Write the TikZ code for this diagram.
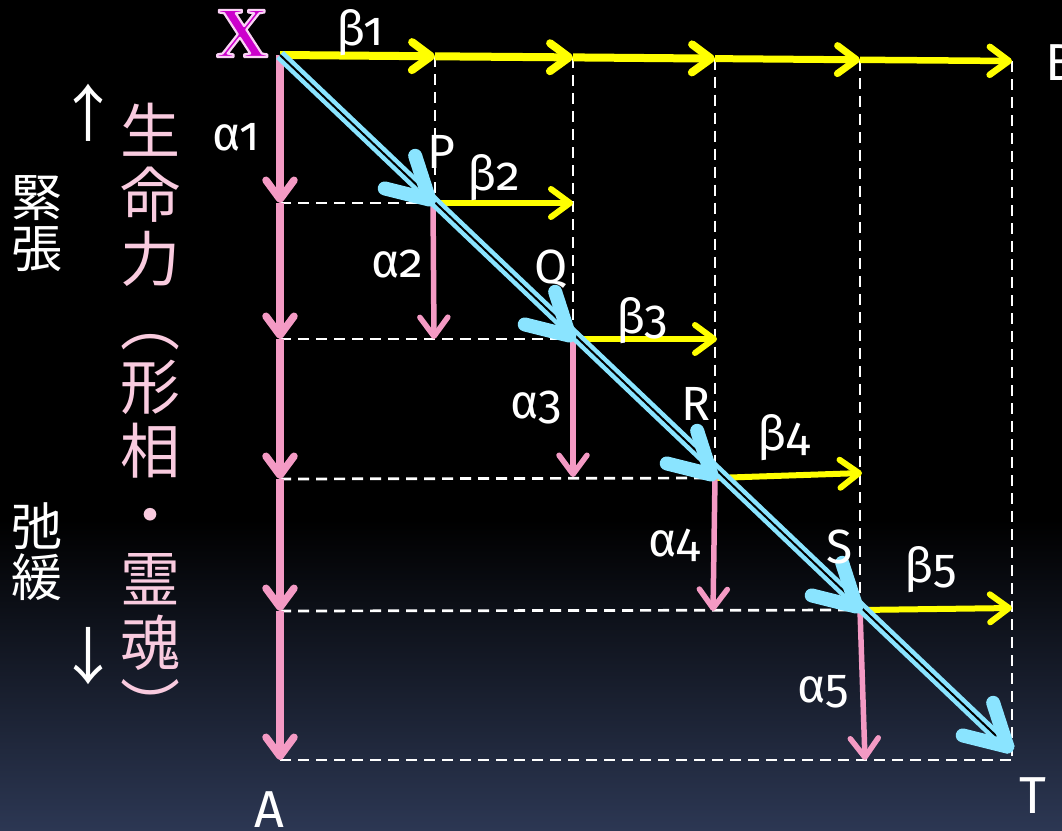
\documentclass[tikz,border=0pt]{standalone}
\usepackage{fontspec}
\setmainfont{Fira Sans}[Numbers=OldStyle]
\newfontfamily\jpfont{Noto Sans CJK JP}
\newfontfamily\xfont{Liberation Serif}
\usetikzlibrary{arrows.meta,calc}
\definecolor{ylw}{HTML}{FFFF00}
\definecolor{pnk}{HTML}{F49AC4}
\definecolor{sky}{HTML}{8AE4FF}
\definecolor{pnktxt}{HTML}{F9CBDF}
\definecolor{xmag}{HTML}{CC00CC}
\definecolor{bgbot}{HTML}{2C3753}
\newcommand\skychev[1]{\draw[chev] ($(#1)+(136.5:5pt)+(166:46pt)$) -- ($(#1)+(136.5:5pt)$) -- ($(#1)+(136.5:5pt)+(108:46pt)$);}
\newcommand\outlinedX{\color{xmag}\special{pdf:literal direct 2 Tr 2.2 w 1 j 0.98 0.82 0.96 RG}X\special{pdf:literal direct 0 Tr}}
\begin{document}
\begin{tikzpicture}[x=1pt,y=-1pt,
  tipb/.style={-{Straight Barb[length=19pt,width=28pt,round]}},
  ytop/.style={draw=ylw, line width=8pt, tipb},
  yin/.style={draw=ylw, line width=6pt, tipb},
  ptop/.style={draw=pnk, line width=7.5pt, tipb},
  pin/.style={draw=pnk, line width=5.5pt, tipb},
  gridline/.style={draw=white, line width=2.7pt, dash pattern=on 11pt off 7pt},
  diag/.style={draw=sky, line width=4.5pt, double=black, double distance=2pt},
  chev/.style={draw=sky, line width=14pt, line cap=round, line join=round},
  lbl/.style={text=white, font=\fontsize{48}{48}\selectfont, inner sep=0pt, anchor=base west},
  caplbl/.style={text=white, font=\fontsize{52}{52}\selectfont, inner sep=0pt, anchor=base west},
  jpv/.style={text=pnktxt, font=\jpfont\fontsize{60}{60}\selectfont, inner sep=0pt, text height=0.88em, text depth=0.12em, anchor=center},
  jpw/.style={text=white, font=\jpfont\fontsize{51}{51}\selectfont, inner sep=0pt, text height=0.88em, text depth=0.12em, anchor=center},
  xl/.style={font=\xfont\bfseries\fontsize{72}{72}\selectfont, inner sep=0pt, anchor=base}
]
\useasboundingbox (0,0) rectangle (1062,830);
\fill[black] (0,0) rectangle (1062,830);
\shade[top color=black, bottom color=bgbot] (0,520) rectangle (1062,830);

% grid points
\coordinate (X) at (280,55);
\coordinate (B1) at (435,56.3);
\coordinate (B2) at (573,57.4);
\coordinate (B3) at (715,58.6);
\coordinate (B4) at (860,59.8);
\coordinate (B5) at (1012,61);
\coordinate (A1) at (280,203);
\coordinate (A2) at (280,339);
\coordinate (A3) at (280,479);
\coordinate (A4) at (280,611);
\coordinate (A5) at (280,760);
\coordinate (P) at (433,203);
\coordinate (Q) at (573,339);
\coordinate (R) at (715,478);
\coordinate (S) at (860,610);
\coordinate (T) at (1011,750);
\coordinate (C) at (1012,760);
\coordinate (Pb) at (573,203);
\coordinate (Pa) at (434,339);
\coordinate (Qb) at (717,339);
\coordinate (Qa) at (573,477);
\coordinate (Rb) at (862,473);
\coordinate (Ra) at (713,611);
\coordinate (Sb) at (1012,608);
\coordinate (Sa) at (865,760);

% dashed grid
\draw[gridline] (A1) -- (P);
\draw[gridline] (A2) -- (Q);
\draw[gridline] (A3) -- (R);
\draw[gridline] (A4) -- (S);
\draw[gridline] (A5) -- (C);
\draw[gridline] (B1) -- (B1 |- P);
\draw[gridline] (B2) -- (B2 |- Q);
\draw[gridline] (B3) -- (B3 |- R);
\draw[gridline] (B4) -- (B4 |- S);
\draw[gridline] (B5) -- (C);

% yellow beta arrows
\draw[ytop] (X) -- (B1);
\draw[ytop] (B1) -- (B2);
\draw[ytop] (B2) -- (B3);
\draw[ytop, line width=7pt] (B3) -- (B4);
\draw[ytop, line width=6.5pt] (B4) -- (B5);
\draw[yin] (P) -- (Pb);
\draw[yin] (Q) -- (Qb);
\draw[yin] (R) -- (Rb);
\draw[yin] (S) -- (Sb);

% pink alpha arrows
\draw[ptop] (X) -- (A1);
\draw[ptop] (A1) -- (A2);
\draw[ptop] (A2) -- (A3);
\draw[ptop] (A3) -- (A4);
\draw[ptop] (A4) -- (A5);
\draw[pin] (P) -- (Pa);
\draw[pin] (Q) -- (Qa);
\draw[pin] (R) -- (Ra);
\draw[pin] (S) -- (Sa);

% diagonal
\draw[diag] (X) -- (T);
\skychev{P}
\skychev{Q}
\skychev{R}
\skychev{S}
\skychev{T}

% labels
\node[lbl] (lb1) at (336,45) {β1};
\node[lbl] (la1) at (212,150) {α1};
\node[lbl] (lP) at (427,168) {P};
\node[lbl] (lb2) at (467,190) {β2};
\node[lbl] (la2) at (371,277) {α2};
\node[lbl] (lQ) at (534,283) {Q};
\node[lbl] (lb3) at (616,333) {β3};
\node[lbl] (la3) at (510,418) {α3};
\node[lbl] (lR) at (681,420) {R};
\node[lbl] (lb4) at (757,450) {β4};
\node[lbl] (la4) at (648,556) {α4};
\node[lbl] (lS) at (826,563) {S};
\node[lbl] (lb5) at (904,582) {β5};
\node[lbl] (la5) at (797,702) {α5};
\node[caplbl] (lT) at (1019,813) {T};
\node[caplbl] (lA) at (254,827) {A};
\node[caplbl] (lB) at (1045,80) {B};

% X, magenta with a light outline
\node[xl] (lX) at (242,57) {\outlinedX};

% vertical Japanese text
\node[jpv] (j0) at (150,149.5) {生};
\node[jpv] (j1) at (150,213.5) {命};
\node[jpv] (j2) at (150,277.5) {力};
\node[jpv] (j3) at (150,341.5) {︵};
\node[jpv] (j4) at (150,405.5) {形};
\node[jpv] (j5) at (150,469.5) {相};
\node[jpv] (j6) at (150,533.5) {・};
\node[jpv] (j7) at (150,597.5) {霊};
\node[jpv] (j8) at (150,661.5) {魂};
\node[jpv] (j9) at (150,725.5) {︶};

\node[jpw] (k1) at (37,213) {緊};
\node[jpw] (k2) at (37,264) {張};
\node[jpw] (k3) at (37,542) {弛};
\node[jpw] (k4) at (37,593) {緩};
\node[jpw, font=\jpfont\fontsize{62}{62}\selectfont] (up) at (88,133) {↑};
\node[jpw, font=\jpfont\fontsize{62}{62}\selectfont] (dn) at (88,676) {↓};
\end{tikzpicture}
\end{document}
